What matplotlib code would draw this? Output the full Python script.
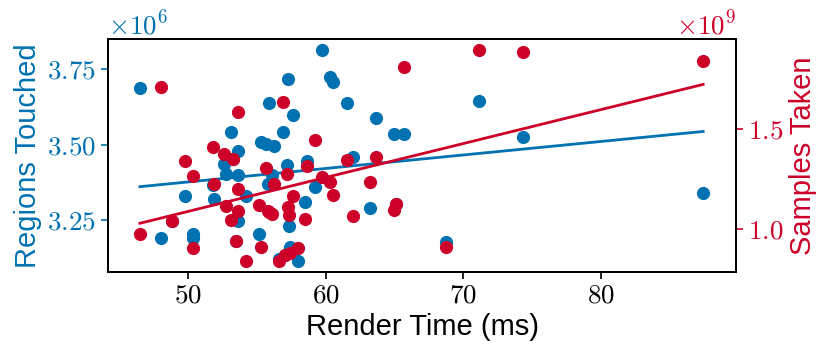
import numpy as np
import matplotlib
matplotlib.use("Agg")
import matplotlib.pyplot as plt

# render time (ms) shared by both series
render_time = [46.47, 47.98, 48.78, 49.75, 50.31, 50.33, 51.81, 51.83, 52.59, 52.70,
               53.08, 53.27, 53.47, 53.59, 53.60, 53.63, 54.17, 55.16, 55.29, 55.67,
               55.82, 55.85, 56.10, 56.23, 56.58, 56.89, 57.04, 57.20, 57.28, 57.29,
               57.38, 57.60, 57.96, 58.49, 58.64, 59.22, 59.71, 60.31, 60.55, 61.57,
               61.95, 63.23, 63.66, 64.95, 65.12, 65.70, 68.74, 71.17, 74.35, 87.46]

# regions touched, in millions
regions_m = [3.688, 3.193, 3.247, 3.330, 3.206, 3.190, 3.366, 3.319, 3.437, 3.402,
             3.541, 3.454, 3.181, 3.481, 3.247, 3.399, 3.330, 3.206, 3.509, 3.501,
             3.371, 3.637, 3.399, 3.495, 3.123, 3.541, 3.134, 3.432, 3.716, 3.231,
             3.162, 3.597, 3.114, 3.310, 3.446, 3.360, 3.815, 3.723, 3.707, 3.637,
             3.461, 3.291, 3.587, 3.535, 3.305, 3.537, 3.178, 3.646, 3.525, 3.340]

# samples taken, in billions
samples_b = [0.975, 1.708, 1.037, 1.338, 1.263, 0.903, 1.408, 1.222, 1.375, 1.112,
             1.045, 1.350, 0.937, 1.583, 1.087, 1.200, 0.838, 1.117, 0.908, 1.305,
             1.087, 1.085, 1.072, 1.222, 0.837, 1.633, 0.867, 1.272, 1.108, 1.070,
             0.878, 1.163, 0.905, 1.047, 1.312, 1.442, 1.258, 1.233, 1.170, 1.342,
             1.062, 1.233, 1.358, 1.095, 1.125, 1.808, 0.908, 1.895, 1.882, 1.838]

left_ticks = [3.25e6, 3.50e6, 3.75e6]
right_ticks = [1.0e9, 1.5e9]
x_ticks = [50, 60, 70, 80]

BLUE = '#0072B2'
RED = '#CC0029'
SANS = 'Liberation Sans'

plt.rcParams.update({
    'font.family': 'serif',
    'font.serif': ['cmr10'],
    'mathtext.fontset': 'cm',
    'axes.formatter.use_mathtext': True,
    'axes.linewidth': 1.4,
    'axes.unicode_minus': False,
})

x = np.array(render_time)
regions = np.array(regions_m) * 1e6
samples = np.array(samples_b) * 1e9

fig = plt.figure(figsize=(8.31, 3.6), dpi=100)
ax = fig.add_axes([0.130, 0.2444, 0.7557, 0.6473])
ax2 = ax.twinx()

ax.scatter(x, regions, s=90, color=BLUE, linewidths=0, zorder=3)
ax2.scatter(x, samples, s=90, color=RED, linewidths=0, zorder=3)

# least squares fits over the data range
xs = np.array([x.min(), x.max()])
b1 = np.polyfit(x, regions, 1)
b2 = np.polyfit(x, samples, 1)
ax.plot(xs, np.polyval(b1, xs), color=BLUE, lw=2, zorder=2)
ax2.plot(xs, np.polyval(b2, xs), color=RED, lw=2, zorder=2)

ax.set_xlim(44.15, 89.85)
ax.set_xticks(x_ticks)
ax.set_yticks(left_ticks)
ax2.set_yticks(right_ticks)

ax.set_xlabel('Render Time (ms)', family=SANS, fontsize=21)
ax.set_ylabel('Regions Touched', family=SANS, fontsize=21, color=BLUE)
ax2.set_ylabel('Samples Taken', family=SANS, fontsize=21, color=RED)

ax.tick_params(axis='x', labelsize=19.5, length=5, width=1.2)
ax.tick_params(axis='y', labelsize=19.5, length=5, width=1.2, colors=BLUE)
ax2.tick_params(axis='y', labelsize=19.5, length=5, width=1.2, colors=RED)
ax.yaxis.get_offset_text().set_fontsize(19.5)
ax.yaxis.get_offset_text().set_color(BLUE)
ax2.yaxis.get_offset_text().set_fontsize(19.5)
ax2.yaxis.get_offset_text().set_color(RED)

fig.savefig('out.png', dpi=100)
